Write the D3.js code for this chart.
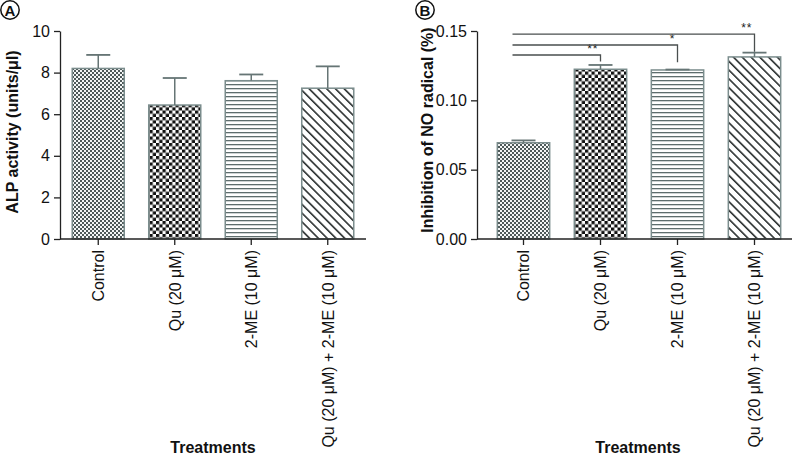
<!DOCTYPE html>
<html>
<head>
<meta charset="utf-8">
<script src="https://cdn.jsdelivr.net/npm/d3@7"></script>
<style>
  html, body { margin: 0; padding: 0; background: #fff; }
  svg { display: block; font-family: "Liberation Sans", Arial, Helvetica, sans-serif; }
</style>
</head>
<body>
<svg id="chart" width="792" height="456"></svg>
<script>
// ---------- DATA ----------
const categories = ["Control", "Qu (20 μM)", "2-ME (10 μM)", "Qu (20 μM) + 2-ME (10 μM)"];
const alpMean = [8.2, 6.44, 7.61, 7.25];
const alpErr  = [0.65, 1.30, 0.30, 1.05];
const alpTicks = [0, 2, 4, 6, 8, 10];
const noMean = [0.0694, 0.1224, 0.1219, 0.1313];
const noErr  = [0.0017, 0.0031, 0.0003, 0.0031];
const noTicks = [0, 0.05, 0.10, 0.15];
const sigFrom  = [0, 0, 0];
const sigTo    = [1, 2, 3];
const sigLevel = [0.1327, 0.1399, 0.1477];
const sigDrop  = [0.1280, 0.1275, 0.1351];
const sigLabel = ["**", "*", "**"];
const patterns = ["pCtrl", "pQu", "pMe", "pCombo"];

// ---------- SETUP ----------
const svg = d3.select("#chart");
const defs = svg.append("defs");

// fine checker (Control)
let p = defs.append("pattern").attr("id", "pCtrl").attr("patternUnits", "userSpaceOnUse")
  .attr("width", 4).attr("height", 4);
p.append("rect").attr("width", 4).attr("height", 4).attr("fill", "#f4f6f6");
p.append("rect").attr("x", 0).attr("y", 0).attr("width", 2).attr("height", 2).attr("fill", "#4e5959");
p.append("rect").attr("x", 2).attr("y", 2).attr("width", 2).attr("height", 2).attr("fill", "#4e5959");

// coarse checker (Qu)
p = defs.append("pattern").attr("id", "pQu").attr("patternUnits", "userSpaceOnUse")
  .attr("width", 6.5).attr("height", 6.5);
p.append("rect").attr("width", 6.5).attr("height", 6.5).attr("fill", "#fff");
p.append("rect").attr("x", 0).attr("y", 0).attr("width", 3.25).attr("height", 3.25).attr("fill", "#111");
p.append("rect").attr("x", 3.25).attr("y", 3.25).attr("width", 3.25).attr("height", 3.25).attr("fill", "#111");

// horizontal lines (2-ME)
p = defs.append("pattern").attr("id", "pMe").attr("patternUnits", "userSpaceOnUse")
  .attr("width", 8).attr("height", 4);
p.append("rect").attr("width", 8).attr("height", 4).attr("fill", "#fff");
p.append("rect").attr("x", 0).attr("y", 0).attr("width", 8).attr("height", 1.3).attr("fill", "#5e6d6d");

// diagonal lines (combo)
p = defs.append("pattern").attr("id", "pCombo").attr("patternUnits", "userSpaceOnUse")
  .attr("width", 6.2).attr("height", 6.2).attr("patternTransform", "rotate(-45)");
p.append("rect").attr("width", 6.2).attr("height", 6.2).attr("fill", "#fff");
p.append("rect").attr("x", 0).attr("y", 0).attr("width", 1.6).attr("height", 6.2).attr("fill", "#2a2f2f");

const FONT = 16;
const barStroke = "#7b8d8d";
const errColor = "#667575";

function panel(opts) {
  const g = svg.append("g");
  const x = d3.scaleBand().domain(categories).range(opts.xRange)
    .paddingInner(0.32).paddingOuter(0.16);
  const y = d3.scaleLinear().domain(opts.yDomain).range([239, 31]);

  // bars
  g.selectAll("rect.bar").data(categories).join("rect")
    .attr("class", "bar")
    .attr("x", d => x(d))
    .attr("width", x.bandwidth())
    .attr("y", (d, i) => y(opts.mean[i]))
    .attr("height", (d, i) => y(0) - y(opts.mean[i]))
    .attr("fill", (d, i) => `url(#${patterns[i]})`)
    .attr("stroke", barStroke).attr("stroke-width", 1.5);

  // error bars
  const cx = d => x(d) + x.bandwidth() / 2;
  g.selectAll("line.err").data(categories).join("line")
    .attr("class", "err")
    .attr("x1", cx).attr("x2", cx)
    .attr("y1", (d, i) => y(opts.mean[i]))
    .attr("y2", (d, i) => y(opts.mean[i] + opts.err[i]))
    .attr("stroke", errColor).attr("stroke-width", 1.5);
  g.selectAll("line.cap").data(categories).join("line")
    .attr("class", "cap")
    .attr("x1", d => cx(d) - 12).attr("x2", d => cx(d) + 12)
    .attr("y1", (d, i) => y(opts.mean[i] + opts.err[i]))
    .attr("y2", (d, i) => y(opts.mean[i] + opts.err[i]))
    .attr("stroke", errColor).attr("stroke-width", 1.8);

  // y axis
  const yAxis = g.append("g").attr("transform", `translate(${opts.axisX},0)`)
    .call(d3.axisLeft(y).tickValues(opts.ticks).tickFormat(opts.fmt).tickSize(6).tickSizeOuter(0).tickPadding(4));
  yAxis.select(".domain").attr("stroke", "#222").attr("stroke-width", 1.3);
  yAxis.selectAll(".tick line").attr("stroke", "#222").attr("stroke-width", 1.3);
  yAxis.selectAll(".tick text").attr("font-size", FONT).attr("fill", "#111")
    .attr("font-family", "Liberation Sans, Arial, sans-serif");

  // x axis
  const xAxis = g.append("g").attr("transform", "translate(0,239)")
    .call(d3.axisBottom(x).tickSize(6).tickSizeOuter(0).tickPadding(4));
  xAxis.select(".domain").remove();
  xAxis.selectAll(".tick line").attr("stroke", "#222").attr("stroke-width", 1.3);
  xAxis.selectAll(".tick text").attr("font-size", FONT).attr("fill", "#111")
    .attr("font-family", "Liberation Sans, Arial, sans-serif")
    .attr("text-anchor", "end")
    .attr("transform", "rotate(-90)")
    .attr("x", -11).attr("y", 0).attr("dy", "0.36em");
  g.append("line").attr("x1", opts.axisX).attr("x2", opts.xAxisEnd)
    .attr("y1", 239).attr("y2", 239).attr("stroke", "#222").attr("stroke-width", 1.3);

  // axis titles
  g.append("text").attr("transform", `translate(${opts.yTitleX},${opts.yTitleY}) rotate(-90)`)
    .attr("text-anchor", "middle").attr("font-size", FONT).attr("font-weight", "bold")
    .attr("fill", "#111").text(opts.yTitle);
  g.append("text").attr("x", opts.xTitleX).attr("y", 453)
    .attr("text-anchor", "middle").attr("font-size", FONT).attr("font-weight", "bold")
    .attr("fill", "#111").text("Treatments");

  // panel letter
  g.append("circle").attr("cx", opts.letterX).attr("cy", 10).attr("r", 9.2)
    .attr("fill", "#fff").attr("stroke", "#111").attr("stroke-width", 1.5);
  g.append("text").attr("x", opts.letterX).attr("y", 15.8).attr("text-anchor", "middle")
    .attr("font-size", 15).attr("font-weight", "bold").attr("fill", "#111").text(opts.letter);

  return { g, x, y, cx };
}

panel({
  xRange: [60, 366], axisX: 60, xAxisEnd: 366,
  yDomain: [0, 10], ticks: alpTicks, fmt: d3.format("d"),
  mean: alpMean, err: alpErr,
  yTitle: "ALP activity (units/μl)", yTitleX: 18, yTitleY: 132,
  xTitleX: 213, letter: "A", letterX: 10
});

const B = panel({
  xRange: [485, 793], axisX: 477, xAxisEnd: 792,
  yDomain: [0, 0.15], ticks: noTicks, fmt: d3.format(".2f"),
  mean: noMean, err: noErr,
  yTitle: "Inhibition of NO radical (%)", yTitleX: 433, yTitleY: 130,
  xTitleX: 638, letter: "B", letterX: 425
});

// significance brackets
sigLevel.forEach((lv, i) => {
  const x0 = B.cx(categories[sigFrom[i]]) - 11;
  const x1 = B.cx(categories[sigTo[i]]);
  const yl = B.y(lv), yd = B.y(sigDrop[i]);
  B.g.append("path")
    .attr("d", `M${x0},${yl}H${x1}V${yd}`)
    .attr("fill", "none").attr("stroke", "#4a4f4f").attr("stroke-width", 1.3);
  B.g.append("text").attr("x", x1 - 2).attr("y", yl - 2)
    .attr("text-anchor", "end").attr("font-size", 12).attr("letter-spacing", 1)
    .attr("fill", "#222")
    .text(sigLabel[i]);
});
</script>
</body>
</html>
